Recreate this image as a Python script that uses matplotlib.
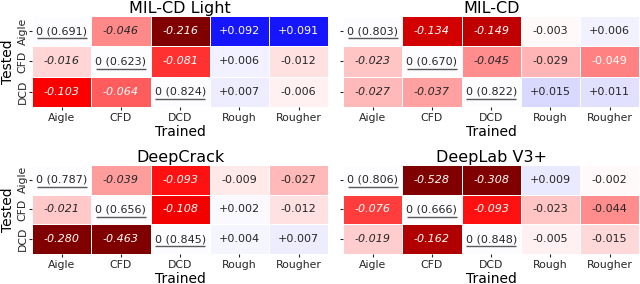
import matplotlib
matplotlib.use("Agg")
import matplotlib.pyplot as plt
import numpy as np
import seaborn as sns

trained = ["Aigle", "CFD", "DCD", "Rough", "Rougher"]
tested = ["Aigle", "CFD", "DCD"]
models = ["MIL-CD Light", "MIL-CD", "DeepCrack", "DeepLab V3+"]

# score on own dataset (diagonal)
base_milcd_light = [0.691, 0.623, 0.824]
base_milcd = [0.803, 0.670, 0.822]
base_deepcrack = [0.787, 0.656, 0.845]
base_deeplab = [0.806, 0.666, 0.848]

# change vs. own-dataset score, rows = tested, cols = trained
delta_milcd_light = [[0.0, -0.046, -0.216, 0.092, 0.091],
                     [-0.016, 0.0, -0.081, 0.006, -0.012],
                     [-0.103, -0.064, 0.0, 0.007, -0.006]]
delta_milcd = [[0.0, -0.134, -0.149, -0.003, 0.006],
               [-0.023, 0.0, -0.045, -0.029, -0.049],
               [-0.027, -0.037, 0.0, 0.015, 0.011]]
delta_deepcrack = [[0.0, -0.039, -0.093, -0.009, -0.027],
                   [-0.021, 0.0, -0.108, 0.002, -0.012],
                   [-0.280, -0.463, 0.0, 0.004, 0.007]]
delta_deeplab = [[0.0, -0.528, -0.308, 0.009, -0.002],
                 [-0.076, 0.0, -0.093, -0.023, -0.044],
                 [-0.019, -0.162, 0.0, -0.005, -0.015]]

deltas = [delta_milcd_light, delta_milcd, delta_deepcrack, delta_deeplab]
bases = [base_milcd_light, base_milcd, base_deepcrack, base_deeplab]

fig = plt.figure(figsize=(6.4, 2.84), dpi=100)
positions = [
    [0.050, 0.623, 0.463, 0.321],
    [0.536, 0.623, 0.463, 0.321],
    [0.050, 0.106, 0.463, 0.313],
    [0.536, 0.106, 0.463, 0.313],
]


def make_labels(delta, base):
    labels = []
    for i, row in enumerate(delta):
        out = []
        for j, v in enumerate(row):
            if i == j:
                out.append(f"0 ({base[i]:.3f})")
            else:
                out.append(f"{v:+.3f}")
        labels.append(out)
    return np.array(labels)


for k, (name, delta, base) in enumerate(zip(models, deltas, bases)):
    ax = fig.add_axes(positions[k])
    data = np.array(delta)
    labels = make_labels(delta, base)
    sns.heatmap(data, ax=ax, cmap="seismic_r", vmin=-0.2, vmax=0.2, cbar=False,
                annot=labels, fmt="", linewidths=0.6, linecolor="white",
                annot_kws={"fontsize": 8})
    for t in ax.texts:
        x, y = t.get_position()
        i, j = int(y), int(x)
        if i != j and j < 3:
            t.set_style("italic")
        if i == j:
            # underline the own-dataset score
            ax.plot([j + 0.08, j + 0.92], [i + 0.74, i + 0.74],
                    color="0.35", linewidth=1.0, solid_capstyle="butt")
    ax.set_xticklabels(trained, rotation=0, fontsize=7.8)
    ax.tick_params(axis="x", length=2.5, width=0.8, pad=2, colors="0.15")
    ax.tick_params(axis="y", length=2.5, width=0.8, pad=0.5, colors="0.15")
    if k % 2 == 0:
        ax.set_yticklabels(tested, rotation=90, fontsize=7.8, va="center")
        ax.set_ylabel("Tested", fontsize=10)
        ax.yaxis.set_label_coords(-0.057, 0.5)
    else:
        ax.set_yticklabels([])
    ax.set_xlabel("Trained", fontsize=10, labelpad=1)
    ax.set_title(name, fontsize=11.5, pad=2)

fig.savefig("out.png", dpi=100)
